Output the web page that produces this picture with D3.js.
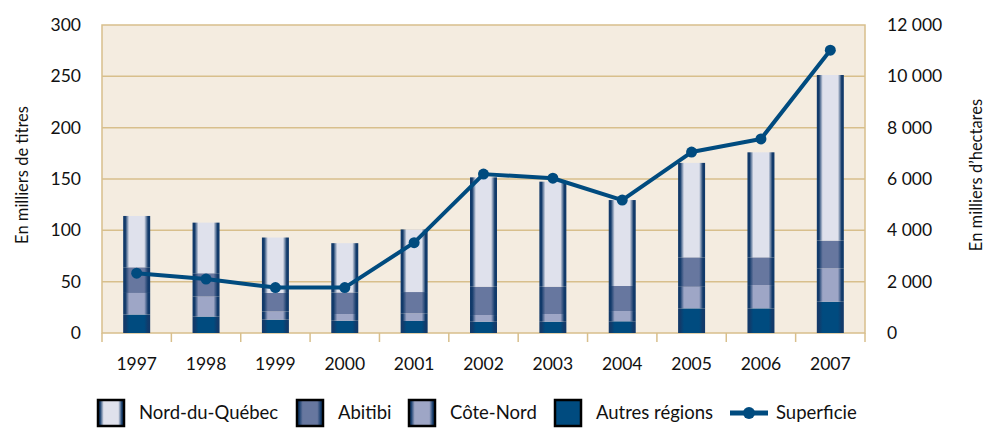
<!DOCTYPE html>
<meta charset="utf-8">
<style>
body { margin: 0; background: #fff; }
text { font-family: Lato, "Open Sans", sans-serif; fill: #111; }
.grid line { stroke: #d8bf8c; stroke-width: 1.5; }
</style>
<svg width="1000" height="443"></svg>
<script src="https://cdn.jsdelivr.net/npm/d3@7/dist/d3.min.js"></script>
<script>

var annees = ["1997","1998","1999","2000","2001","2002","2003","2004","2005","2006","2007"];
var autres   = [18, 16, 13, 12, 11.7, 11, 11, 11.4, 24, 24, 30.5];
var coteNord = [21, 19.5, 8, 6.5, 7.5, 6.5, 7.5, 10, 21, 22.7, 32.5];
var abitibi  = [25, 22.7, 18, 21, 20.7, 27.6, 26.6, 24.4, 28.7, 27, 27];
var nordQc   = [50, 49.3, 54, 48, 61, 106.5, 102.3, 83.7, 92, 102.3, 161.3];
var superficie = [2330, 2100, 1770, 1770, 3520, 6190, 6030, 5180, 7050, 7560, 11020];
var ticksGauche = [0, 50, 100, 150, 200, 250, 300];
var ticksDroite = [0, 2000, 4000, 6000, 8000, 10000, 12000];

var series = [
  {nom: "Autres régions", vals: autres,   c: "#004b7f", id: "gAutres"},
  {nom: "Côte-Nord",      vals: coteNord, c: "#9ea6c6", id: "gCote"},
  {nom: "Abitibi",        vals: abitibi,  c: "#67779f", id: "gAbitibi"},
  {nom: "Nord-du-Québec", vals: nordQc,   c: "#dfe1ec", id: "gNord"}
];

var svg = d3.select("svg"),
    m = {left: 102, right: 135, top: 25, bottom: 110},
    w = 1000 - m.left - m.right,
    h = 443 - m.top - m.bottom;

var defs = svg.append("defs");
series.forEach(function(s) {
  var g = defs.append("linearGradient").attr("id", s.id).attr("x1", 0).attr("x2", 1).attr("y1", 0).attr("y2", 0);
  var edge = "#123a6a";
  [[0, edge], [0.08, edge], [0.22, s.c], [0.78, s.c], [0.92, edge], [1, edge]].forEach(function(st) {
    g.append("stop").attr("offset", st[0]).attr("stop-color", st[1]);
  });
});

var x = d3.scaleBand().domain(annees).range([0, w]);
var y = d3.scaleLinear().domain([0, 300]).range([h, 0]);
var y2 = d3.scaleLinear().domain([0, 12000]).range([h, 0]);

var g = svg.append("g").attr("transform", "translate(" + m.left + "," + m.top + ")");

g.append("rect").attr("width", w).attr("height", h).attr("fill", "#f4ece0")
  .attr("stroke", "#d8bf8c").attr("stroke-width", 1.5);

g.append("g").attr("class", "grid").selectAll("line")
  .data(ticksGauche.slice(1, -1))
  .enter().append("line")
    .attr("x1", 0).attr("x2", w)
    .attr("y1", function(d) { return y(d); })
    .attr("y2", function(d) { return y(d); });

// ticks sous l'axe des x
g.append("g").selectAll("line")
  .data(annees.concat(["fin"]))
  .enter().append("line")
    .attr("x1", function(d, i) { return i * x.step(); })
    .attr("x2", function(d, i) { return i * x.step(); })
    .attr("y1", h).attr("y2", h + 9)
    .attr("stroke", "#d8bf8c").attr("stroke-width", 1.5);

var stack = d3.stack().keys(d3.range(series.length))
  .value(function(d, k) { return series[k].vals[d]; });
var couches = stack(d3.range(annees.length));

var bw = 27;
couches.forEach(function(layer, k) {
  g.append("g").selectAll("rect")
    .data(layer)
    .enter().append("rect")
      .attr("x", function(d, i) { return x(annees[i]) + x.bandwidth() / 2 - bw / 2; })
      .attr("width", bw)
      .attr("y", function(d) { return y(d[1]); })
      .attr("height", function(d) { return y(d[0]) - y(d[1]); })
      .attr("fill", "url(#" + series[k].id + ")");
});

var line = d3.line()
  .x(function(d, i) { return x(annees[i]) + x.bandwidth() / 2; })
  .y(function(d) { return y2(d); });

g.append("path").datum(superficie).attr("d", line)
  .attr("fill", "none").attr("stroke", "#004b7f").attr("stroke-width", 4).attr("stroke-linejoin", "round");
g.append("g").selectAll("circle")
  .data(superficie)
  .enter().append("circle")
    .attr("cx", function(d, i) { return x(annees[i]) + x.bandwidth() / 2; })
    .attr("cy", function(d) { return y2(d); })
    .attr("r", 5.5).attr("fill", "#004b7f");

// axes
var fmt = function(d) { return d3.format(",")(d).replace(",", " "); };

g.append("g").selectAll("text").data(ticksGauche).enter().append("text")
  .attr("x", -21).attr("y", function(d) { return y(d); }).attr("dy", "0.35em")
  .attr("text-anchor", "end").attr("font-size", 17.5).text(function(d) { return d; });

g.append("g").selectAll("text").data(ticksDroite).enter().append("text")
  .attr("x", w + 22).attr("y", function(d) { return y2(d); }).attr("dy", "0.35em")
  .attr("text-anchor", "start").attr("font-size", 17.5).text(fmt);

g.append("g").selectAll("text").data(annees).enter().append("text")
  .attr("x", function(d) { return x(d) + x.bandwidth() / 2; }).attr("y", h + 37)
  .attr("text-anchor", "middle").attr("font-size", 17.5).text(function(d) { return d; });

svg.append("text").attr("transform", "translate(28," + (m.top + h / 2 - 4) + ") rotate(-90)")
  .attr("text-anchor", "middle").attr("font-size", 16.5).text("En milliers de titres");
svg.append("text").attr("transform", "translate(982," + (m.top + h / 2 - 4) + ") rotate(-90)")
  .attr("text-anchor", "middle").attr("font-size", 16.5).text("En milliers d\u2019hectares");

// légende
var leg = [
  {s: series[3], x: 97}, {s: series[2], x: 296}, {s: series[1], x: 408}, {s: series[0], x: 554}
];
var lg = svg.append("g");
leg.forEach(function(l) {
  lg.append("rect").attr("x", l.x + 1).attr("y", 400).attr("width", 26).attr("height", 26)
    .attr("fill", "url(#" + l.s.id + ")").attr("stroke", "#000").attr("stroke-width", 2.5);
  if (l.s.id === "gAutres") lg.select("rect:last-child").attr("fill", l.s.c);
  lg.append("text").attr("x", l.x + 42).attr("y", 413).attr("dy", "0.35em")
    .attr("font-size", 18.5).text(l.s.nom);
});
lg.append("line").attr("x1", 730).attr("x2", 768).attr("y1", 413).attr("y2", 413)
  .attr("stroke", "#004b7f").attr("stroke-width", 5);
lg.append("circle").attr("cx", 749).attr("cy", 413).attr("r", 6).attr("fill", "#004b7f");
lg.append("text").attr("x", 776).attr("y", 413).attr("dy", "0.35em").attr("font-size", 18.5).text("Superficie");

</script>
